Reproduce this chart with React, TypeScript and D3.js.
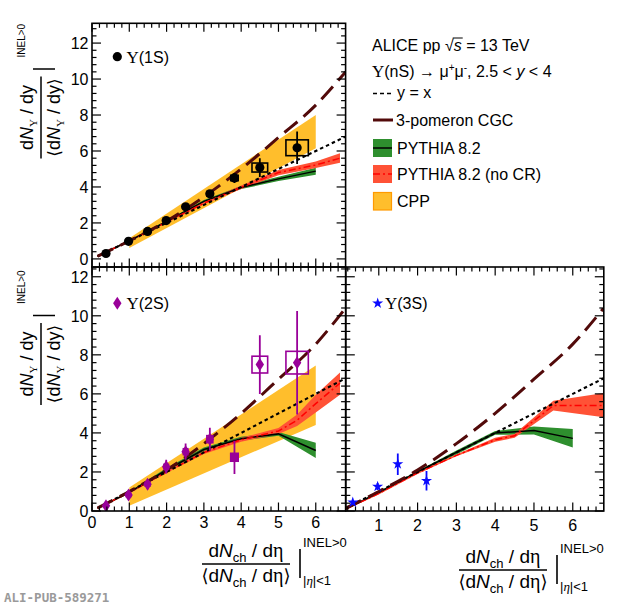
import React, { useEffect, useRef } from 'react';
import * as d3 from 'd3';

const SANS = '"Liberation Sans", Arial, Helvetica, sans-serif';
const SERIF = '"Liberation Serif", "Times New Roman", serif';

// tick values
const X_TICKS = [0, 1, 2, 3, 4, 5, 6];
const X_TICKS_R = [1, 2, 3, 4, 5, 6];
const Y_TICKS = [0, 2, 4, 6, 8, 10, 12];

// Upsilon(1S) data
const x1S = [0.375, 0.98, 1.49, 1.99, 2.51, 3.16, 3.82, 4.5, 5.5];
const y1S = [0.3, 0.98, 1.53, 2.13, 2.9, 3.62, 4.5, 5.08, 6.18];
const stat1S = [0.04, 0.05, 0.06, 0.08, 0.1, 0.15, 0.28, 0.52, 0.9];
const sysX1S = [0.06, 0.06, 0.06, 0.06, 0.06, 0.08, 0.1, 0.21, 0.3];
const sysY1S = [0.05, 0.05, 0.06, 0.08, 0.1, 0.12, 0.15, 0.25, 0.44];

// Upsilon(2S) data
const x2S = [0.375, 0.98, 1.49, 1.99, 2.51, 3.16, 3.82, 4.5, 5.5];
const y2S = [0.27, 0.82, 1.37, 2.27, 3.04, 3.68, 2.75, 7.5, 7.6];
const stat2S = [0.1, 0.2, 0.25, 0.35, 0.42, 0.58, 0.85, 1.5, 2.65];
const sysX2S = [0.06, 0.06, 0.06, 0.06, 0.06, 0.08, 0.1, 0.21, 0.3];
const sysY2S = [0.05, 0.08, 0.1, 0.12, 0.15, 0.18, 0.2, 0.43, 0.58];

// Upsilon(3S) data
const x3S = [0.33, 0.97, 1.49, 2.23];
const y3S = [0.44, 1.25, 2.4, 1.55];
const stat3S = [0.08, 0.18, 0.55, 0.5];

// y = x reference
const xDiag = [0.15, 6.8];

// 3-pomeron CGC
const xCGC = [0.15, 1, 2, 3, 4, 5, 6, 6.8];
const yCGC = [0.15, 1.0, 2.1, 3.45, 5.0, 6.75, 8.55, 10.4];

// CPP bands
const xCPP = [1, 6];
const loCPP1S = [0.6, 6.15];
const hiCPP1S = [1.15, 8.0];
const loCPP2S = [0.27, 4.41];
const hiCPP2S = [1.2, 7.45];

// PYTHIA 8.2 (1S)
const xPy1S = [0.15, 1, 2, 3, 4, 5, 6];
const yPy1S = [0.15, 1.0, 2.08, 3.2, 3.97, 4.45, 4.88];
const loPy1S = [0.12, 0.95, 2.02, 3.12, 3.88, 4.33, 4.68];
const hiPy1S = [0.18, 1.05, 2.14, 3.28, 4.06, 4.57, 5.07];
// PYTHIA 8.2 no CR (1S)
const xNc1S = [0.15, 1, 2, 3, 4, 5, 6, 6.65];
const yNc1S = [0.15, 1.0, 2.05, 3.1, 3.98, 4.8, 5.22, 5.6];
const loNc1S = [0.12, 0.95, 2.0, 3.02, 3.88, 4.65, 5.05, 5.35];
const hiNc1S = [0.18, 1.05, 2.1, 3.18, 4.08, 4.95, 5.42, 5.88];

// PYTHIA 8.2 (2S)
const xPy2S = [0.15, 1, 2, 3, 4, 5, 6];
const yPy2S = [0.15, 0.95, 2.1, 3.15, 3.7, 3.95, 3.1];
const loPy2S = [0.12, 0.9, 2.0, 3.05, 3.6, 3.85, 2.72];
const hiPy2S = [0.18, 1.0, 2.2, 3.25, 3.8, 4.05, 3.5];
// PYTHIA 8.2 no CR (2S)
const xNc2S = [0.15, 1, 2, 3, 4, 5, 5.5, 6, 6.65];
const yNc2S = [0.15, 0.95, 2.0, 3.0, 3.65, 4.1, 4.65, 5.5, 6.55];
const loNc2S = [0.12, 0.9, 1.95, 2.92, 3.55, 3.95, 4.35, 5.05, 5.95];
const hiNc2S = [0.18, 1.0, 2.05, 3.08, 3.75, 4.25, 4.95, 5.95, 7.1];

// PYTHIA 8.2 (3S)
const xPy3S = [0.15, 1, 2, 3, 4, 5, 6];
const yPy3S = [0.1, 0.95, 2.0, 3.0, 4.0, 4.12, 3.72];
const loPy3S = [0.07, 0.9, 1.95, 2.9, 3.9, 3.92, 3.25];
const hiPy3S = [0.13, 1.0, 2.05, 3.1, 4.1, 4.33, 4.2];
// PYTHIA 8.2 no CR (3S)
const xNc3S = [0.15, 1, 2, 3, 4, 4.5, 5.5, 6.8];
const yNc3S = [0.1, 0.9, 1.95, 2.85, 3.65, 3.85, 5.4, 5.4];
const loNc3S = [0.07, 0.85, 1.9, 2.8, 3.55, 3.75, 5.15, 4.8];
const hiNc3S = [0.13, 0.95, 2.0, 2.9, 3.75, 3.95, 5.65, 6.05];

const C_CPP = '#ffbe2c';
const C_GREEN = '#2e8f2e';
const C_RED = '#ff5236';
const C_CGC = '#520a0a';
const C_2S = '#990099';
const C_3S = '#0a0aff';

const App: React.FC = () => {
  const ref = useRef<SVGSVGElement | null>(null);

  useEffect(() => {
    const svg = d3.select(ref.current);
    svg.selectAll('*').remove();

    const xL = d3.scaleLinear().domain([0, 6.8]).range([92, 345.6]);
    const xR = d3.scaleLinear().domain([0.15, 6.8]).range([345.8, 603.8]);
    const yT = d3.scaleLinear().domain([-0.45, 13.1]).range([267, 23.3]);
    const yB = d3.scaleLinear().domain([0, 12.5]).range([511, 267]);

    const defs = svg.append('defs');
    let clipN = 0;
    const panel = (xs: any, ys: any) => {
      const [x0, x1] = xs.range();
      const [yb, yt] = ys.range();
      const id = `clip${clipN++}`;
      defs.append('clipPath').attr('id', id).append('rect')
        .attr('x', x0).attr('y', yt).attr('width', x1 - x0).attr('height', yb - yt);
      return svg.append('g').attr('clip-path', `url(#${id})`);
    };

    const band = (g: any, xs: any, ys: any, xv: number[], lo: number[], hi: number[], fill: string) => {
      const area = d3.area<number>()
        .x((d) => xs(d))
        .y0((_, i) => ys(lo[i]))
        .y1((_, i) => ys(hi[i]));
      g.append('path').attr('d', area(xv)).attr('fill', fill);
    };

    const curve = (g: any, xs: any, ys: any, xv: number[], yv: number[], stroke: string, w: number, dash: string | null, c: any = d3.curveLinear) => {
      const ln = d3.line<number>().x((d) => xs(d)).y((_, i) => ys(yv[i])).curve(c);
      g.append('path').attr('d', ln(xv)).attr('fill', 'none')
        .attr('stroke', stroke).attr('stroke-width', w)
        .attr('stroke-dasharray', dash);
    };

    const models = (g: any, xs: any, ys: any, py: any, nc: any) => {
      band(g, xs, ys, py[0], py[2], py[3], C_GREEN);
      band(g, xs, ys, nc[0], nc[2], nc[3], C_RED);
      curve(g, xs, ys, py[0], py[1], '#000', 1.5, null);
      curve(g, xs, ys, nc[0], nc[1], '#ff0000', 1.5, '7,3,2,3');
      curve(g, xs, ys, xDiag, xDiag, '#000', 2.1, '3.5,3');
      curve(g, xs, ys, xCGC, yCGC, C_CGC, 3, '17,8', d3.curveMonotoneX);
    };

    const frame = (xs: any, ys: any) => {
      const [x0, x1] = xs.range();
      const [yb, yt] = ys.range();
      const g = svg.append('g').attr('stroke', '#000').attr('stroke-width', 1.2);
      const [dx0, dx1] = xs.domain();
      const [dy0, dy1] = ys.domain();
      d3.range(0, 7.01, 0.2).filter((v) => v >= dx0 && v <= dx1).forEach((v) => {
        const major = Math.abs(v - Math.round(v)) < 1e-6;
        const len = major ? 8.5 : 4.5;
        const px = xs(v);
        g.append('line').attr('x1', px).attr('x2', px).attr('y1', yb).attr('y2', yb - len);
        g.append('line').attr('x1', px).attr('x2', px).attr('y1', yt).attr('y2', yt + len);
      });
      d3.range(0, 13.01, 0.4).filter((v) => v >= dy0 && v <= dy1).forEach((v) => {
        const major = Math.abs(v / 2 - Math.round(v / 2)) < 1e-6;
        const len = major ? 9 : 4.5;
        const py = ys(v);
        g.append('line').attr('x1', x0).attr('x2', x0 + len).attr('y1', py).attr('y2', py);
        g.append('line').attr('x1', x1).attr('x2', x1 - len).attr('y1', py).attr('y2', py);
      });
      svg.append('rect').attr('x', x0).attr('y', yt).attr('width', x1 - x0).attr('height', yb - yt)
        .attr('fill', 'none').attr('stroke', '#000').attr('stroke-width', 1.6);
    };

    const errors = (g: any, xs: any, ys: any, xv: number[], yv: number[], st: number[], color: string) => {
      xv.forEach((x, i) => {
        g.append('line').attr('x1', xs(x)).attr('x2', xs(x))
          .attr('y1', ys(yv[i] - st[i])).attr('y2', ys(yv[i] + st[i]))
          .attr('stroke', color).attr('stroke-width', 1.8);
      });
    };
    const boxes = (g: any, xs: any, ys: any, xv: number[], yv: number[], sx: number[], sy: number[], color: string) => {
      xv.forEach((x, i) => {
        g.append('rect').attr('x', xs(x - sx[i])).attr('y', ys(yv[i] + sy[i]))
          .attr('width', xs(x + sx[i]) - xs(x - sx[i])).attr('height', ys(yv[i] - sy[i]) - ys(yv[i] + sy[i]))
          .attr('fill', 'none').attr('stroke', color).attr('stroke-width', 1.6);
      });
    };

    const diamond = 'M0,-6.5L4.2,0L0,6.5L-4.2,0Z';
    const star = d3.symbol().type(d3.symbolStar).size(38)();

    // ---------- top-left: 1S ----------
    const gT = panel(xL, yT);
    band(gT, xL, yT, xCPP, loCPP1S, hiCPP1S, C_CPP);
    models(gT, xL, yT, [xPy1S, yPy1S, loPy1S, hiPy1S], [xNc1S, yNc1S, loNc1S, hiNc1S]);
    errors(gT, xL, yT, x1S, y1S, stat1S, '#000');
    boxes(gT, xL, yT, x1S, y1S, sysX1S, sysY1S, '#000');
    x1S.forEach((x, i) => {
      gT.append('circle').attr('cx', xL(x)).attr('cy', yT(y1S[i])).attr('r', 4.6).attr('fill', '#000');
    });
    frame(xL, yT);

    // ---------- bottom-left: 2S ----------
    const gB = panel(xL, yB);
    band(gB, xL, yB, xCPP, loCPP2S, hiCPP2S, C_CPP);
    models(gB, xL, yB, [xPy2S, yPy2S, loPy2S, hiPy2S], [xNc2S, yNc2S, loNc2S, hiNc2S]);
    errors(gB, xL, yB, x2S, y2S, stat2S, C_2S);
    boxes(gB, xL, yB, x2S, y2S, sysX2S, sysY2S, C_2S);
    x2S.forEach((x, i) => {
      if (i === 6) {
        gB.append('rect').attr('x', xL(x) - 4.5).attr('y', yB(y2S[i]) - 4.5)
          .attr('width', 9).attr('height', 9).attr('fill', C_2S);
      } else {
        gB.append('path').attr('d', diamond)
          .attr('transform', `translate(${xL(x)},${yB(y2S[i])})`).attr('fill', C_2S);
      }
    });
    frame(xL, yB);

    // ---------- bottom-right: 3S ----------
    const gR = panel(xR, yB);
    models(gR, xR, yB, [xPy3S, yPy3S, loPy3S, hiPy3S], [xNc3S, yNc3S, loNc3S, hiNc3S]);
    errors(gR, xR, yB, x3S, y3S, stat3S, C_3S);
    x3S.forEach((x, i) => {
      gR.append('path').attr('d', star)
        .attr('transform', `translate(${xR(x)},${yB(y3S[i])})`).attr('fill', C_3S);
    });
    frame(xR, yB);

    // ---------- tick labels ----------
    const lab = svg.append('g').attr('font-family', SANS).attr('font-size', 16).attr('fill', '#000');
    Y_TICKS.forEach((v) => {
      lab.append('text').attr('x', 88.5).attr('y', yT(v)).attr('dy', '0.36em')
        .attr('text-anchor', 'end').text(v);
      lab.append('text').attr('x', 88.5).attr('y', yB(v)).attr('dy', '0.36em')
        .attr('text-anchor', 'end').text(v);
    });
    X_TICKS.forEach((v) => {
      lab.append('text').attr('x', xL(v)).attr('y', 528).attr('text-anchor', 'middle').text(v);
    });
    X_TICKS_R.forEach((v) => {
      lab.append('text').attr('x', xR(v)).attr('y', 531).attr('text-anchor', 'middle').text(v);
    });

    // ---------- panel labels ----------
    const plabel = (mx: number, my: number, tx: number, name: string, marker: (g: any) => void) => {
      const g = svg.append('g');
      marker(g.append('g').attr('transform', `translate(${mx},${my})`));
      const t = g.append('text').attr('x', tx).attr('y', my + 6)
        .attr('font-family', SANS).attr('font-size', 16);
      t.append('tspan').attr('font-family', SERIF).attr('font-size', 17).text('Υ');
      t.append('tspan').text(name);
    };
    plabel(117.3, 56.7, 126.5, '(1S)', (g) => g.append('circle').attr('r', 4.6).attr('fill', '#000'));
    plabel(117.3, 303.3, 126.5, '(2S)', (g) => g.append('path').attr('d', diamond).attr('fill', C_2S));
    plabel(377.7, 303.3, 385, '(3S)', (g) => g.append('path').attr('d', star).attr('fill', C_3S));

    // ---------- legend ----------
    const lg = svg.append('g').attr('font-family', SANS).attr('font-size', 16).attr('fill', '#000');
    const t1 = lg.append('text').attr('x', 372).attr('y', 51).text('ALICE pp \u221A');
    const w1 = (t1.node() as SVGTextElement).getComputedTextLength();
    const ts = lg.append('text').attr('x', 372 + w1).attr('y', 51).attr('font-style', 'italic').text('s');
    const ws = (ts.node() as SVGTextElement).getComputedTextLength();
    lg.append('line').attr('x1', 372 + w1 - 1).attr('x2', 372 + w1 + ws + 1)
      .attr('y1', 38).attr('y2', 38).attr('stroke', '#000').attr('stroke-width', 1);
    lg.append('text').attr('x', 372 + w1 + ws).attr('y', 51).text('\u00A0= 13 TeV');

    const t2 = lg.append('text').attr('x', 372).attr('y', 77);
    t2.append('tspan').attr('font-family', SERIF).attr('font-size', 17).text('Υ');
    t2.append('tspan').text('(nS) \u2192 \u03BC');
    t2.append('tspan').attr('font-size', 10).attr('dy', -6).text('+');
    t2.append('tspan').attr('dy', 6).text('\u03BC');
    t2.append('tspan').attr('font-size', 10).attr('dy', -6).text('-');
    t2.append('tspan').attr('dy', 6).text(', 2.5 < ');
    t2.append('tspan').attr('font-style', 'italic').text('y');
    t2.append('tspan').text('\u00A0< 4');

    lg.append('line').attr('x1', 373).attr('x2', 393).attr('y1', 93.5).attr('y2', 93.5)
      .attr('stroke', '#000').attr('stroke-width', 1.6).attr('stroke-dasharray', '4,3');
    lg.append('text').attr('x', 397).attr('y', 98).text('y = x');

    lg.append('line').attr('x1', 373).attr('x2', 393).attr('y1', 120).attr('y2', 120)
      .attr('stroke', C_CGC).attr('stroke-width', 3);
    lg.append('text').attr('x', 396).attr('y', 126).text('3-pomeron CGC');

    lg.append('rect').attr('x', 373).attr('y', 139).attr('width', 19).attr('height', 18).attr('fill', C_GREEN);
    lg.append('line').attr('x1', 373).attr('x2', 392).attr('y1', 148).attr('y2', 148)
      .attr('stroke', '#000').attr('stroke-width', 1.5);
    lg.append('text').attr('x', 397).attr('y', 154).text('PYTHIA 8.2');

    lg.append('rect').attr('x', 373).attr('y', 165).attr('width', 19).attr('height', 18).attr('fill', C_RED);
    lg.append('line').attr('x1', 373).attr('x2', 392).attr('y1', 174).attr('y2', 174)
      .attr('stroke', '#ff0000').attr('stroke-width', 1.5).attr('stroke-dasharray', '7,3,2,3');
    lg.append('text').attr('x', 397).attr('y', 180).text('PYTHIA 8.2 (no CR)');

    lg.append('rect').attr('x', 373.5).attr('y', 192.5).attr('width', 18).attr('height', 17.5)
      .attr('fill', C_CPP).attr('stroke', '#ff9a00').attr('stroke-width', 1.2);
    lg.append('text').attr('x', 397).attr('y', 207).text('CPP');

    // ---------- y axis titles ----------
    const yTitle = (cx: number, cy: number) => {
      const g = svg.append('g').attr('transform', `translate(${cx},${cy}) rotate(-90)`)
        .attr('font-family', SANS).attr('font-size', 18).attr('fill', '#000');
      const num = g.append('text').attr('x', 0).attr('y', -8).attr('text-anchor', 'middle');
      num.append('tspan').text('d');
      num.append('tspan').attr('font-style', 'italic').text('N');
      num.append('tspan').attr('font-family', SERIF).attr('font-size', 11).attr('dy', 4).text('Υ');
      num.append('tspan').attr('dy', -4).text('\u00A0/ dy');
      const den = g.append('text').attr('x', 0).attr('y', 19).attr('text-anchor', 'middle');
      den.append('tspan').attr('font-family', '"DejaVu Sans", sans-serif').attr('font-size', 17).text('\u27E8');
      den.append('tspan').text('d');
      den.append('tspan').attr('font-style', 'italic').text('N');
      den.append('tspan').attr('font-family', SERIF).attr('font-size', 11).attr('dy', 4).text('Υ');
      den.append('tspan').attr('dy', -4).text('\u00A0/ dy');
      den.append('tspan').attr('font-family', '"DejaVu Sans", sans-serif').attr('font-size', 17).text('\u27E9');
      g.append('line').attr('x1', -41).attr('x2', 41).attr('y1', 0).attr('y2', 0)
        .attr('stroke', '#000').attr('stroke-width', 1.5);
      g.append('line').attr('x1', 48.5).attr('x2', 48.5).attr('y1', -8).attr('y2', 14)
        .attr('stroke', '#000').attr('stroke-width', 1.5);
      g.append('text').attr('x', 60).attr('y', -16).attr('font-size', 10).text('INEL>0');
    };
    yTitle(41, 117.5);
    yTitle(41, 364);

    // ---------- x axis titles ----------
    const xTitle = (cx: number, ly: number) => {
      const g = svg.append('g').attr('font-family', SANS).attr('font-size', 19).attr('fill', '#000');
      const num = g.append('text').attr('x', cx).attr('y', ly - 7).attr('text-anchor', 'middle');
      num.append('tspan').text('d');
      num.append('tspan').attr('font-style', 'italic').text('N');
      num.append('tspan').attr('font-size', 13).attr('dy', 5).text('ch');
      num.append('tspan').attr('dy', -5).text('\u00A0/ d');
      num.append('tspan').attr('font-family', SERIF).attr('font-size', 20).text('\u03B7');
      const den = g.append('text').attr('x', cx).attr('y', ly + 18).attr('text-anchor', 'middle');
      den.append('tspan').attr('font-family', '"DejaVu Sans", sans-serif').attr('font-size', 18).text('\u27E8');
      den.append('tspan').text('d');
      den.append('tspan').attr('font-style', 'italic').text('N');
      den.append('tspan').attr('font-size', 13).attr('dy', 5).text('ch');
      den.append('tspan').attr('dy', -5).text('\u00A0/ d');
      den.append('tspan').attr('font-family', SERIF).attr('font-size', 20).text('\u03B7');
      den.append('tspan').attr('font-family', '"DejaVu Sans", sans-serif').attr('font-size', 18).text('\u27E9');
      g.append('line').attr('x1', cx - 44).attr('x2', cx + 44).attr('y1', ly).attr('y2', ly)
        .attr('stroke', '#000').attr('stroke-width', 1.5);
      g.append('line').attr('x1', cx + 54).attr('x2', cx + 54).attr('y1', ly - 15).attr('y2', ly + 14)
        .attr('stroke', '#000').attr('stroke-width', 1.6);
      g.append('text').attr('x', cx + 57).attr('y', ly - 17).attr('font-size', 13).text('INEL>0');
      const sub = g.append('text').attr('x', cx + 57).attr('y', ly + 21).attr('font-size', 13);
      sub.append('tspan').text('|');
      sub.append('tspan').attr('font-family', SERIF).attr('font-style', 'italic').text('\u03B7');
      sub.append('tspan').text('|<1');
    };
    xTitle(246, 564);
    xTitle(503, 570);

    svg.append('text').attr('x', 4).attr('y', 602)
      .attr('font-family', '"DejaVu Sans Mono", "Liberation Mono", monospace')
      .attr('font-weight', 'bold').attr('font-size', 12.5).attr('fill', '#9a9a9a')
      .text('ALI-PUB-589271');
  }, []);

  return (
    <svg
      ref={ref}
      width={620}
      height={608}
      style={{ position: 'absolute', left: 0, top: 0, background: '#fff' }}
    />
  );
};

export default App;
